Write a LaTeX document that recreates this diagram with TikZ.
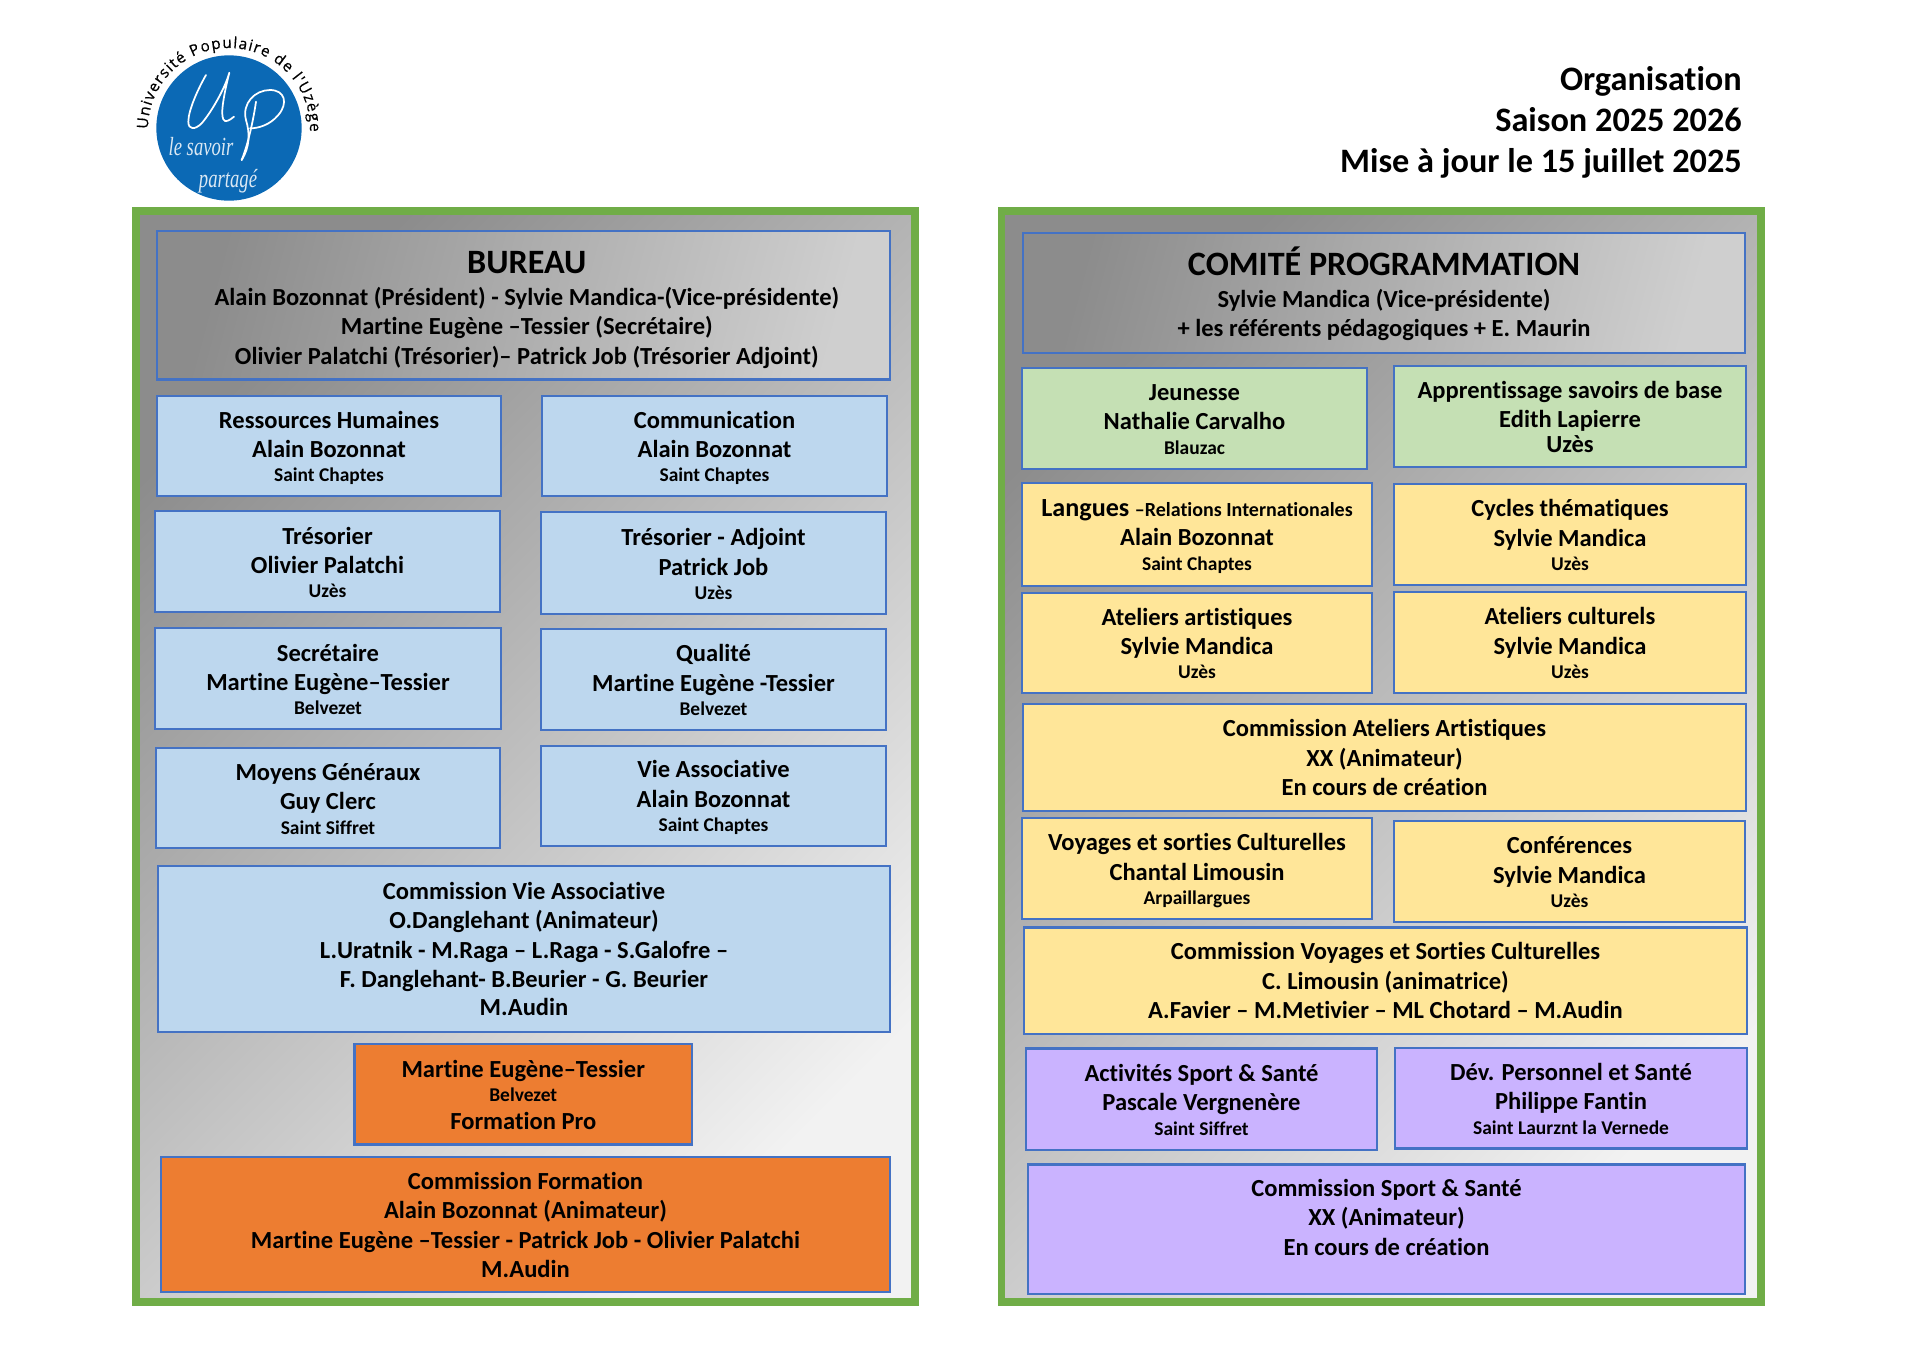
\documentclass[tikz,border=0pt]{standalone}
\usepackage{fontspec}
\setmainfont{Carlito}[Ligatures=NoCommon]
\newfontfamily\logofont{Open Sans}[FakeBold=0.5]
\newfontfamily\handfont{Liberation Serif}
\usetikzlibrary{decorations.text}
\definecolor{pgreen}{HTML}{70AD47}
\definecolor{bline}{HTML}{4472C4}
\definecolor{cblue}{HTML}{BDD7EE}
\definecolor{corange}{HTML}{ED7D31}
\definecolor{cgreen}{HTML}{C5E0B4}
\definecolor{cyellow}{HTML}{FFE699}
\definecolor{cviolet}{HTML}{CAB3FF}
\definecolor{clogo}{HTML}{0B69B5}
\newcommand{\sm}[1]{{\fontsize{14.6}{16}\selectfont #1}}
\newcommand{\ttl}[1]{{\fontsize{25.6}{26}\selectfont #1}}
\tikzset{
 boxbase/.style={draw=bline,line width=1.9pt,inner sep=0pt,outer sep=0pt},
 lbl/.style={align=center,inner sep=0pt,text=black,font=\fontsize{18.4}{22}\selectfont\bfseries},
 fblue/.style={fill=cblue}, forange/.style={fill=corange}, fgreen/.style={fill=cgreen},
 fyellow/.style={fill=cyellow}, fviolet/.style={fill=cviolet},
 fgrey/.style={top color=black!45,bottom color=black!19,shading angle=75},
 panel/.style={draw=pgreen,line width=5.7pt,inner sep=0pt,outer sep=0pt,top color=black!45,middle color=black!20,bottom color=black!5,shading angle=45},
 uline/.style={draw=white,line width=1.3pt,line cap=round,line join=round},
 hand/.style={text=white,text opacity=0.85,font=\handfont\itshape\fontsize{14}{15}\selectfont,inner sep=0pt,yscale=1.4}
}
\newcommand{\bx}[8]{%
 \pgfmathsetlengthmacro\myw{(#4-#2)*0.75pt}%
 \pgfmathsetlengthmacro\myh{(#5-#3)*0.75pt}%
 \node[boxbase,#6,minimum width=\myw,minimum height=\myh] (#1) at ({(#2+#4)/2},{(#3+#5)/2}) {};
 \node[lbl] (#1t) at ([shift={(0,#7)}]#1.center) {#8};
}
\begin{document}
\begin{tikzpicture}[x=0.75pt,y=-0.75pt]
\useasboundingbox (0,0) rectangle (1920,1357);
% panels
\pgfmathsetlengthmacro\myw{(915-136)*0.75pt}\pgfmathsetlengthmacro\myh{(1302-211)*0.75pt}
\node[panel,minimum width=\myw,minimum height=\myh] (pleft) at (525.5,756.5) {};
\pgfmathsetlengthmacro\myw{(1761-1001.5)*0.75pt}
\node[panel,minimum width=\myw,minimum height=\myh] (pright) at (1381.25,756.5) {};
% header
\node[align=right,anchor=north east,inner sep=0pt,font=\fontsize{25.7}{30.7}\selectfont\bfseries] (head) at (1742,66.5) {Organisation\\Saison 2025 2026\\Mise à jour le 15 juillet 2025};
% logo
\node[circle,fill=clogo,minimum size=109pt,inner sep=0pt] (logo) at (229,128) {};
\path[decorate,decoration={text along path,text align=fit to path,text={|\fontsize{11.6}{13}\selectfont\logofont|Université Populaire de l'Uzège}}] (148,129) arc[start angle=180,end angle=362,radius=81];
\begin{scope}[shift={(170,60)},x=0.25pt,y=-0.25pt]
\draw[uline] (108,45) .. controls (85,85) and (55,150) .. (55,185) .. controls (55,210) and (75,210) .. (95,190) .. controls (125,155) and (165,85) .. (178,38) .. controls (165,90) and (150,160) .. (160,178) .. controls (165,190) and (180,180) .. (192,170);
\draw[uline] (215,300) .. controls (235,250) and (250,180) .. (258,125);
\draw[uline] (215,300) .. controls (240,260) and (240,220) .. (228,180) .. controls (215,130) and (255,90) .. (300,90) .. controls (345,90) and (355,130) .. (325,165) .. controls (300,195) and (265,205) .. (240,205);
\end{scope}
\node[hand] (sav) at (201,147) {le savoir};
\node[hand] (par) at (228,181) {partagé};
% left column
\bx{bur}{157}{231}{890}{379.5}{fgrey}{4.5}{\hspace*{5pt}\ttl{BUREAU}\\[2pt]\hspace*{5pt}Alain Bozonnat (Président) - Sylvie Mandica-(Vice-présidente)\\\hspace*{5pt}Martine Eugène –Tessier (Secrétaire)\\\hspace*{5pt}Olivier Palatchi (Trésorier)– Patrick Job (Trésorier Adjoint)}
\bx{rh}{157}{396}{501}{496}{fblue}{2}{Ressources Humaines\\Alain Bozonnat\\[-3.8pt]\sm{Saint Chaptes}}
\bx{com}{542}{396}{887}{496}{fblue}{2}{Communication\\Alain Bozonnat\\[-3.8pt]\sm{Saint Chaptes}}
\bx{tre}{155}{511}{500}{612}{fblue}{1}{Trésorier\\Olivier Palatchi\\[-3.8pt]\sm{Uzès}}
\bx{tra}{541}{512}{886}{614}{fblue}{1}{Trésorier - Adjoint\\Patrick Job\\[-3.8pt]\sm{Uzès}}
\bx{sec}{155}{628}{501}{729}{fblue}{1}{Secrétaire\\Martine Eugène–Tessier\\[-3.8pt]\sm{Belvezet}}
\bx{qua}{541}{629}{886}{730}{fblue}{0.5}{Qualité\\Martine Eugène -Tessier\\[-3.8pt]\sm{Belvezet}}
\bx{moy}{156}{748}{500}{848}{fblue}{1}{Moyens Généraux\\Guy Clerc\\[-3.8pt]\sm{Saint Siffret}}
\bx{vie}{541}{746}{886}{846}{fblue}{1.5}{Vie Associative\\Alain Bozonnat\\[-3.8pt]\sm{Saint Chaptes}}
\bx{cva}{158}{866}{890}{1032}{fblue}{0}{Commission Vie Associative\\O.Danglehant (Animateur)\\L.Uratnik - M.Raga – L.Raga - S.Galofre –\\F. Danglehant- B.Beurier - G. Beurier\\[-1pt]M.Audin}
\bx{met}{354.5}{1044}{692}{1144.5}{forange}{0.5}{Martine Eugène–Tessier\\[-3.8pt]\sm{Belvezet}\\[-1pt]Formation Pro}
\bx{cfo}{161}{1157}{890}{1292}{forange}{0.5}{Commission Formation\\Alain Bozonnat (Animateur)\\Martine Eugène –Tessier - Patrick Job - Olivier Palatchi\\M.Audin}
% right column
\bx{cpg}{1023}{233}{1745}{353}{fgrey}{1}{\ttl{COMITÉ PROGRAMMATION}\\[2pt]Sylvie Mandica (Vice-présidente)\\+ les référents pédagogiques + E. Maurin}
\bx{jeu}{1022}{368}{1367}{469}{fgreen}{1}{Jeunesse\\Nathalie Carvalho\\[-3.8pt]\sm{Blauzac}}
\bx{app}{1394}{366}{1746}{467}{fgreen}{0.5}{Apprentissage savoirs de base\\Edith Lapierre\\[-3.5pt]Uzès}
\bx{lan}{1022}{483}{1372}{586}{fyellow}{2}{{\fontsize{19.6}{22}\selectfont Langues} {\fontsize{15}{16}\selectfont –Relations Internationales}\\Alain Bozonnat\\[-3.8pt]\sm{Saint Chaptes}}
\bx{cyc}{1394}{484}{1746}{585}{fyellow}{0.5}{Cycles thématiques\\Sylvie Mandica\\[-3.8pt]\sm{Uzès}}
\bx{aar}{1022}{593}{1372}{693}{fyellow}{0.5}{Ateliers artistiques\\Sylvie Mandica\\[-3.8pt]\sm{Uzès}}
\bx{acu}{1394}{592}{1746}{693}{fyellow}{0.5}{Ateliers culturels\\Sylvie Mandica\\[-3.8pt]\sm{Uzès}}
\bx{caa}{1023}{704}{1746}{811}{fyellow}{0}{Commission Ateliers Artistiques\\XX (Animateur)\\En cours de création}
\bx{voy}{1022}{818}{1372}{919}{fyellow}{2}{Voyages et sorties Culturelles\\Chantal Limousin\\[-3.8pt]\sm{Arpaillargues}}
\bx{con}{1394}{821}{1745}{922}{fyellow}{0.5}{Conférences\\Sylvie Mandica\\[-3.8pt]\sm{Uzès}}
\bx{cvs}{1024}{927.5}{1747}{1034}{fyellow}{0}{Commission Voyages et Sorties Culturelles\\C. Limousin (animatrice)\\A.Favier – M.Metivier – ML Chotard – M.Audin}
\bx{ass}{1026}{1048.5}{1377}{1150}{fviolet}{0.5}{Activités Sport \& Santé\\Pascale Vergnenère\\[-3.8pt]\sm{Saint Siffret}}
\bx{dev}{1395}{1048}{1747}{1148.5}{fviolet}{0.5}{Dév. Personnel et Santé\\Philippe Fantin\\[-3.8pt]\sm{Saint Laurznt la Vernede}}
\bx{css}{1028}{1164.5}{1745}{1294}{fviolet}{-12}{Commission Sport \& Santé\\XX (Animateur)\\En cours de création}
\end{tikzpicture}
\end{document}
